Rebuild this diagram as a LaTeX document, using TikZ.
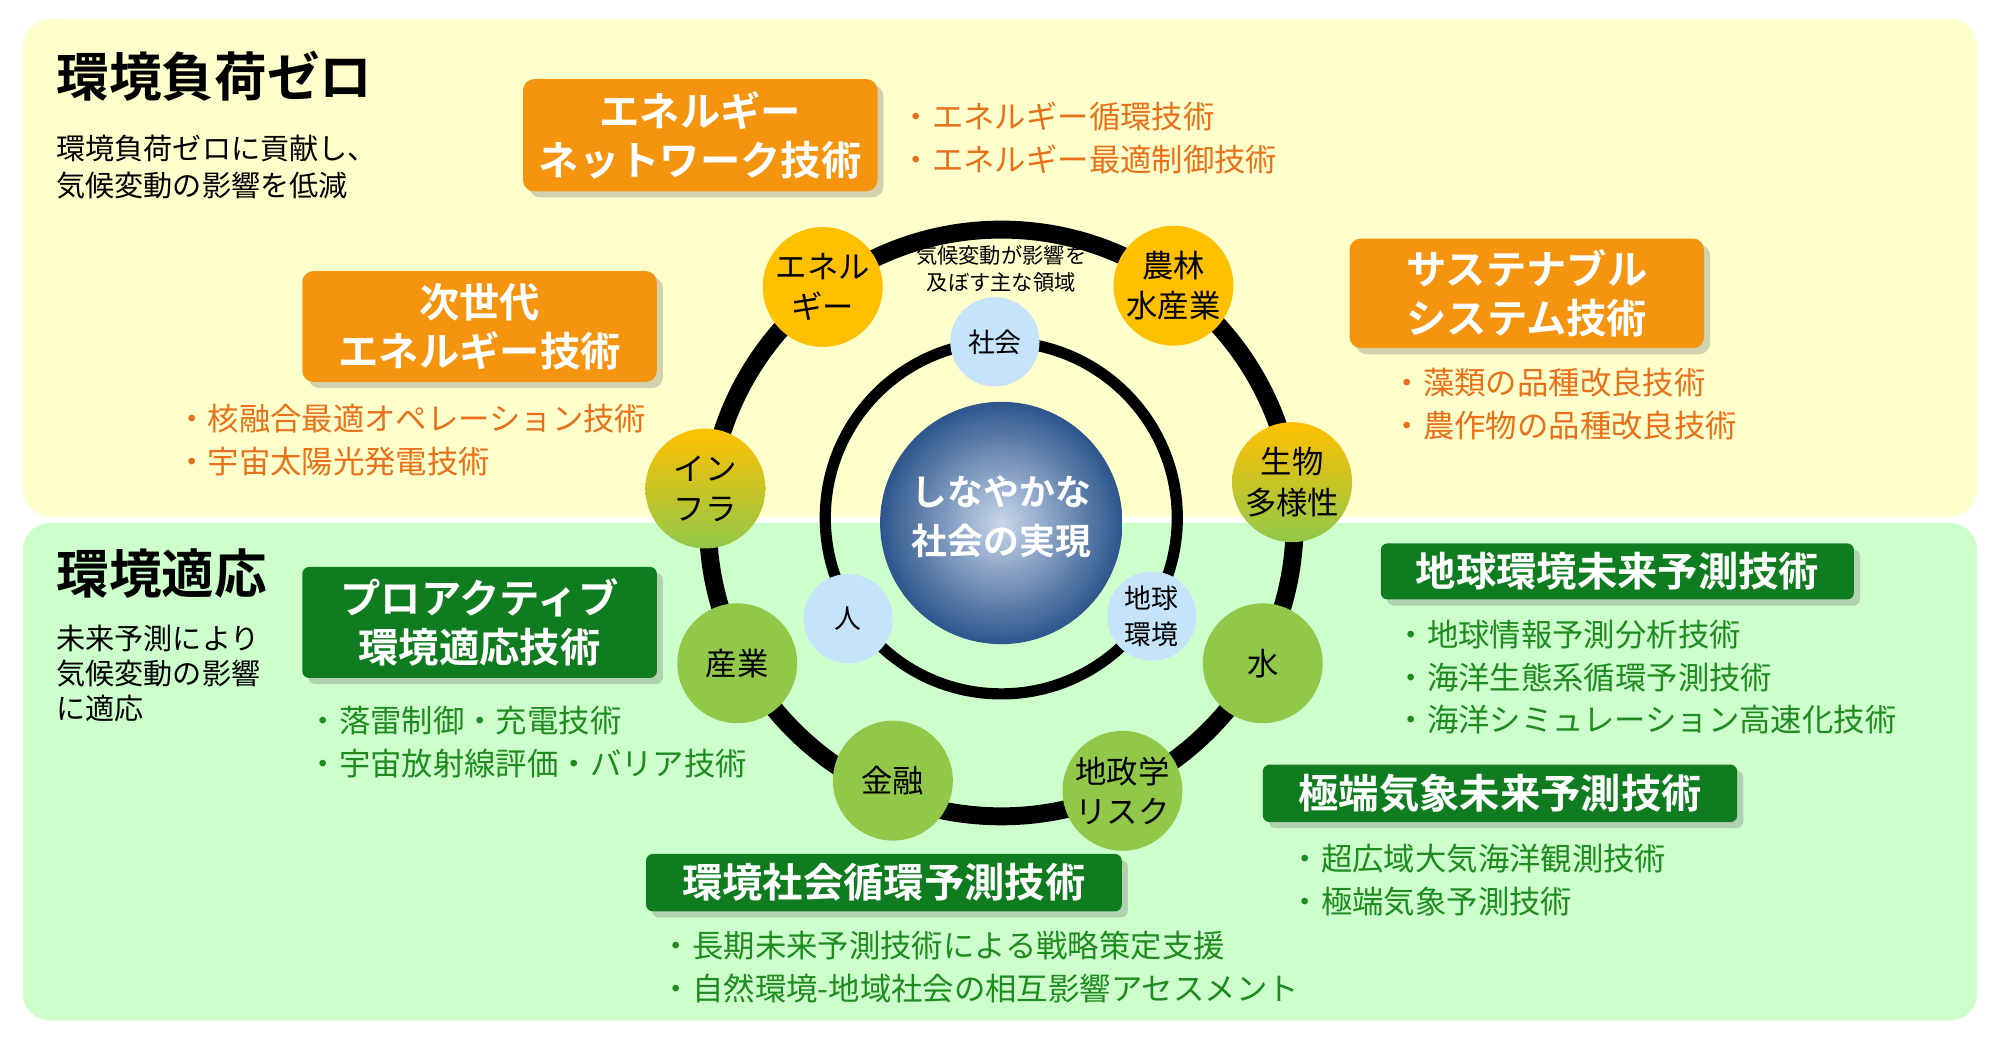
\documentclass[tikz,border=0pt]{standalone}
\usepackage{fontspec}
\setmainfont{Noto Sans CJK JP}
\newfontfamily\boldjp{Noto Sans CJK JP}[FakeBold=0,UprightFont=* Bold]
\usetikzlibrary{shadows,positioning}
\definecolor{paneyel}{HTML}{FFFFCC}
\definecolor{panegrn}{HTML}{CCFFCC}
\definecolor{boxorange}{HTML}{F5940F}
\definecolor{txtorange}{HTML}{E8701A}
\definecolor{boxgreen}{HTML}{107C20}
\definecolor{txtgreen}{HTML}{1F8A1F}
\definecolor{ballyel}{HTML}{FFC000}
\definecolor{ballgrn}{HTML}{92C84A}
\definecolor{ballmid}{HTML}{C8CC28}
\definecolor{ballblue}{HTML}{C5E4FA}
\tikzset{
	orangebox/.style={fill=boxorange, rounded corners=5pt, drop shadow={opacity=0.35},
		text=white, font=\boldjp\fontsize{18}{22}\selectfont, align=center, inner sep=0pt},
	greenbox/.style={fill=boxgreen, rounded corners=3pt, drop shadow={opacity=0.35},
		text=white, font=\boldjp\fontsize{18}{22}\selectfont, align=center, inner sep=0pt},
	orangelist/.style={text=txtorange, font=\fontsize{14}{19}\selectfont, align=left, anchor=west},
	greenlist/.style={text=txtgreen, font=\fontsize{14}{19}\selectfont, align=left, anchor=west},
	area/.style={circle, minimum size=1.88cm, inner sep=0pt, align=center,
		font=\fontsize{14}{18}\selectfont},
	spot/.style={circle, fill=ballblue, minimum size=1.4cm, inner sep=0pt, align=center,
		font=\fontsize{12}{16}\selectfont},
}
\begin{document}
\begin{tikzpicture}[x=0.02cm, y=-0.02cm]
	\useasboundingbox (0,0) rectangle (1568,819);
	% panels
	\fill [paneyel, rounded corners=12pt] (18,15) rectangle (1550,405);
	\fill [panegrn, rounded corners=12pt] (18,410) rectangle (1550,800);
	\node [anchor=west, font=\boldjp\fontsize{23.5}{28}\selectfont] (tzero) at (38,60) {環境負荷ゼロ};
	\node [anchor=north west, align=left, font=\fontsize{13}{16.5}\selectfont] (dzero) at (38,100)
		{環境負荷ゼロに貢献し、\\気候変動の影響を低減};
	\node [anchor=west, font=\boldjp\fontsize{23.5}{28}\selectfont] (tadapt) at (38,450) {環境適応};
	\node [anchor=north west, align=left, font=\fontsize{13}{15.5}\selectfont] (dadapt) at (38,484)
		{未来予測により\\気候変動の影響\\に適応};

	% rings and earth
	\draw [line width=8pt] (785,410) circle (230);
	\draw [line width=5pt] (785,406) circle (138);
	\shade [inner color={rgb,255:red,200;green,215;blue,235}, outer color={rgb,255:red,45;green,85;blue,140}] (785,410) circle (95);
	\node [text=white, font=\boldjp\fontsize{16}{22}\selectfont, align=center] (core) at (785,405)
		{しなやかな\\社会の実現};
	\node [font=\fontsize{9.5}{12}\selectfont, align=center] (caption) at (785,211)
		{気候変動が影響を\\及ぼす主な領域};

	% areas
	\node [area, fill=ballyel] (energy) at (645,225) {エネル\\ギー};
	\node [area, fill=ballyel] (agri) at (920,224) {農林\\水産業};
	\node [area, top color=ballyel, bottom color=ballgrn] (infra) at (553,383) {イン\\フラ};
	\node [area, top color=ballyel, bottom color=ballgrn] (bio) at (1013,378) {生物\\多様性};
	\node [area, fill=ballgrn] (industry) at (578,520) {産業};
	\node [area, fill=ballgrn] (water) at (990,520) {水};
	\node [area, fill=ballgrn] (finance) at (700,612) {金融};
	\node [area, fill=ballgrn] (geo) at (880,620) {地政学\\リスク};
	\node [spot] (society) at (780,268) {社会};
	\node [spot] (people) at (665,485) {人};
	\node [spot] (globe) at (903,483) {地球\\環境};

	% zero emission technologies
	\node [orangebox, minimum width=5.56cm, minimum height=1.76cm] (netw) at (549,106)
		{エネルギー\\ネットワーク技術};
	\node [orangelist] (netwl) at (700,108) {・エネルギー循環技術\\・エネルギー最適制御技術};
	\node [orangebox, minimum width=5.56cm, minimum height=1.74cm] (nextgen) at (376,256)
		{次世代\\エネルギー技術};
	\node [orangelist] (nextgenl) at (132,345) {・核融合最適オペレーション技術\\・宇宙太陽光発電技術};
	\node [orangebox, minimum width=5.56cm, minimum height=1.72cm] (sust) at (1197,230)
		{サステナブル\\システム技術};
	\node [orangelist] (sustl) at (1085,317) {・藻類の品種改良技術\\・農作物の品種改良技術};

	% adaptation technologies
	\node [greenbox, minimum width=5.56cm, minimum height=1.74cm] (proact) at (376,488)
		{プロアクティブ\\環境適応技術};
	\node [greenlist] (proactl) at (235,582) {・落雷制御・充電技術\\・宇宙放射線評価・バリア技術};
	\node [greenbox, minimum width=7.42cm, minimum height=0.88cm] (earthf) at (1268,448)
		{地球環境未来予測技術};
	\node [greenlist] (earthfl) at (1088,531) {・地球情報予測分析技術\\・海洋生態系循環予測技術\\・海洋シミュレーション高速化技術};
	\node [greenbox, minimum width=7.44cm, minimum height=0.9cm] (extreme) at (1176,622)
		{極端気象未来予測技術};
	\node [greenlist] (extremel) at (1005,690) {・超広域大気海洋観測技術\\・極端気象予測技術};
	\node [greenbox, minimum width=7.46cm, minimum height=0.9cm] (social) at (693,692)
		{環境社会循環予測技術};
	\node [greenlist] (sociall) at (512,758) {・長期未来予測技術による戦略策定支援\\・自然環境-地域社会の相互影響アセスメント};
\end{tikzpicture}
\end{document}
